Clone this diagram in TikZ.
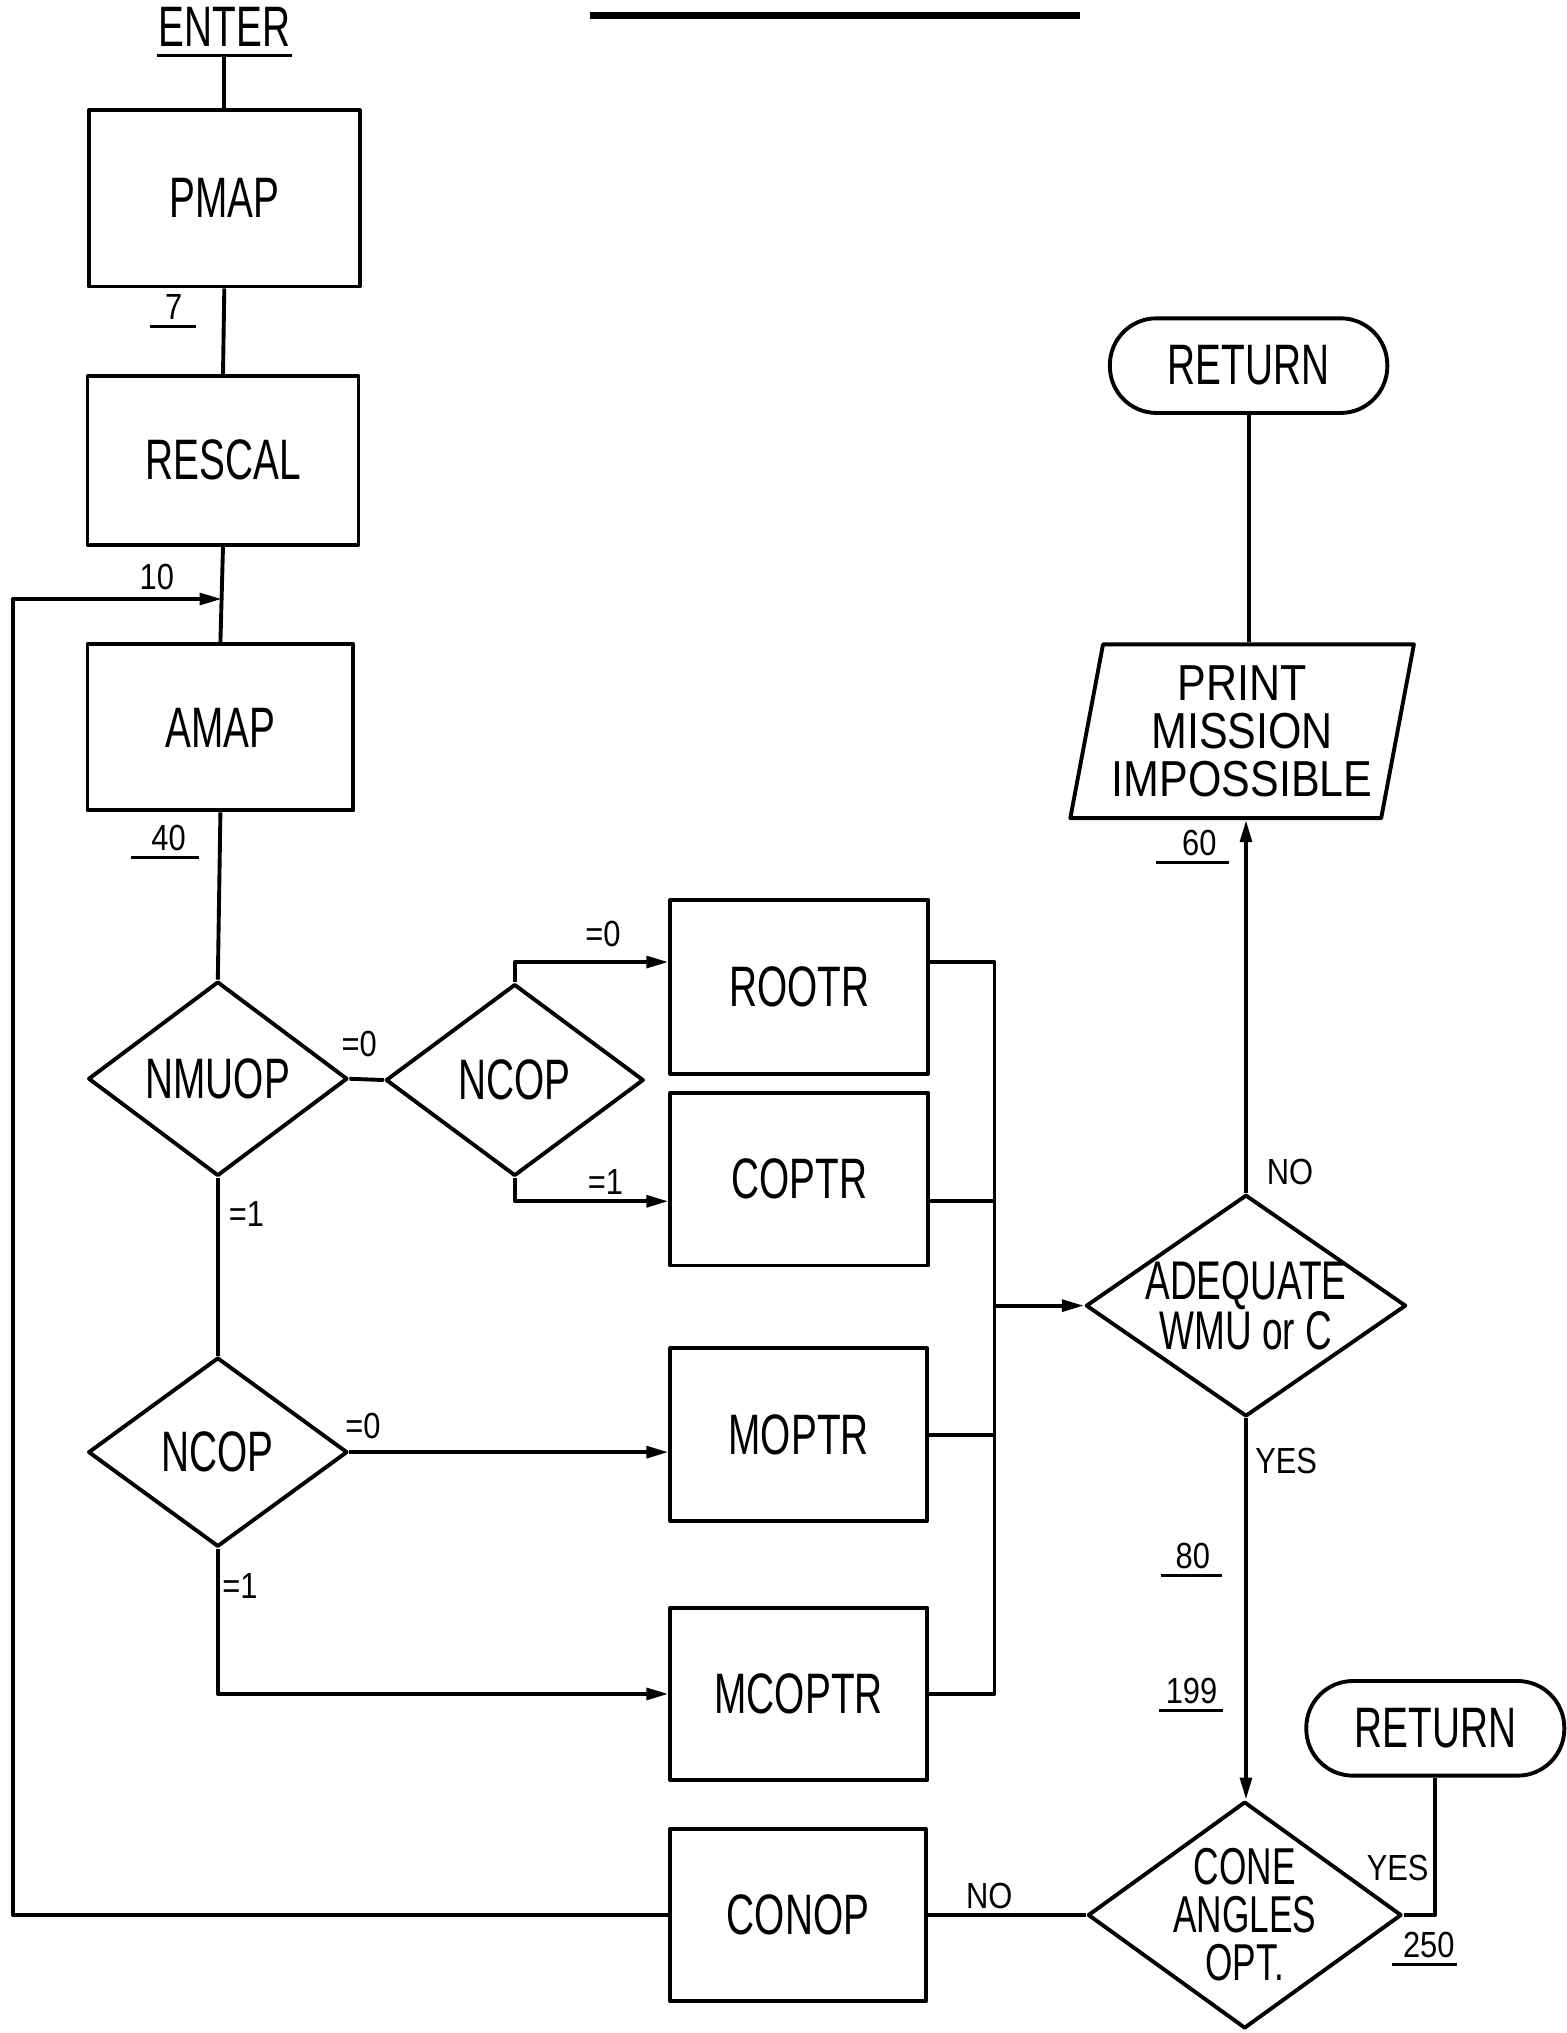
\documentclass[tikz,border=0pt]{standalone}
\usepackage{fontspec}
\setmainfont[FakeStretch=0.68]{Liberation Sans}
\newfontfamily\wideF[FakeStretch=0.85]{Liberation Sans}
\usetikzlibrary{shapes.geometric,arrows.meta,calc}
\begin{document}
\begin{tikzpicture}[x=1pt,y=-1pt,line width=3pt,line join=round,
  big/.style={font=\fontsize{44}{46}\selectfont},
  box/.style={draw,rectangle,inner sep=0pt,big},
  dec/.style={draw,diamond,inner sep=0pt},
  term/.style={draw,rectangle,rounded corners=36pt,inner sep=0pt,big},
  num/.style={font=\wideF\fontsize{28}{30}\selectfont,inner sep=0pt},
  arr/.style={-{Triangle[length=17pt,width=9pt]}},
  uline/.style={line width=2.2pt}]
\useasboundingbox (0,0) rectangle (1208,1568);

% title underline (title text cut off)
\draw[line width=6pt] (455,12) -- (833,12);

% ---- left column
\node[big,inner sep=0pt] (enter) at (173,21) {ENTER};
\coordinate (enterU) at (173,42);
\draw[uline] ($(enter.south west)+(0,5)$) -- ($(enter.south east)+(0,5)$);
\node[box,minimum width=209pt,minimum height=136pt] (pmap) at (173,153) {PMAP};
\node[box,minimum width=209pt,minimum height=130pt] (rescal) at (172,355) {RESCAL};
\node[box,minimum width=205pt,minimum height=128pt] (amap) at (170,561) {AMAP};
\node[dec,minimum width=200pt,minimum height=150pt,label={[big]center:NMUOP}] (nmuop) at (168,832) {};
\node[dec,minimum width=199pt,minimum height=148pt,label={[big]center:NCOP}] (ncop1) at (397,833) {};
\node[dec,minimum width=200pt,minimum height=146pt,label={[big]center:NCOP}] (ncop2) at (168,1120) {};

% ---- middle column
\node[box,minimum width=199pt,minimum height=134pt] (rootr) at (616.5,761) {ROOTR};
\node[box,minimum width=199pt,minimum height=133pt] (coptr) at (616.5,909.5) {COPTR};
\node[box,minimum width=198pt,minimum height=133pt] (moptr) at (616,1106.5) {MOPTR};
\node[box,minimum width=198pt,minimum height=133pt] (mcoptr) at (616,1306.5) {MCOPTR};
\node[box,minimum width=197pt,minimum height=133pt] (conop) at (615.5,1477) {CONOP};

% ---- right column
\node[term,minimum width=214pt,minimum height=73pt] (ret1) at (963,282) {RETURN};
\node[draw,trapezium,trapezium left angle=76,trapezium right angle=104,trapezium stretches body,
      minimum width=265pt,minimum height=134pt,inner sep=0pt,align=center,
      font=\wideF\fontsize{39}{37}\selectfont] (print) at (958,564) {PRINT\\MISSION\\IMPOSSIBLE};
\node[dec,minimum width=247pt,minimum height=171pt,
      label={[align=center,font=\fontsize{42}{37}\selectfont]center:{ADEQUATE\\WMU or C}}] (adeq) at (961,1007) {};
\node[dec,minimum width=242pt,minimum height=175pt,
      label={[align=center,font=\fontsize{40}{37}\selectfont]center:{CONE\\ANGLES\\OPT.}}] (cone) at (960,1477) {};
\node[term,minimum width=199pt,minimum height=73pt] (ret2) at (1107,1333) {RETURN};

% ---- small labels
\node[num] (n7) at (134,237) {7};
\draw[uline] ($(n7.south west)+(-10,4)$) -- ($(n7.south east)+(9,4)$);
\node[num] (n10) at (121,445) {10};
\node[num] (n40) at (130,646) {40};
\draw[uline] ($(n40.south west)+(-14,4)$) -- ($(n40.south east)+(9,4)$);
\node[num] (e1) at (277,805) {=0};
\node[num] (e2) at (465,720) {=0};
\node[num] (e3) at (467,912) {=1};
\node[num] (e4) at (190,936) {=1};
\node[num] (e5) at (280,1100) {=0};
\node[num] (e6) at (185,1223) {=1};
\node[num] (no1) at (995,904) {NO};
\node[num] (n60) at (925,650) {60};
\draw[uline] ($(n60.south west)+(-19,4)$) -- ($(n60.south east)+(8,4)$);
\node[num] (yes1) at (992,1127) {YES};
\node[num] (n80) at (920,1200) {80};
\draw[uline] ($(n80.south west)+(-10,4)$) -- ($(n80.south east)+(8,4)$);
\node[num] (n199) at (919,1304) {199};
\draw[uline] ($(n199.south west)+(-4,4)$) -- ($(n199.south east)+(3,4)$);
\node[num] (no2) at (763,1462) {NO};
\node[num] (yes2) at (1078,1441) {YES};
\node[num] (n250) at (1102,1500) {250};
\draw[uline] ($(n250.south west)+(-7,4)$) -- ($(n250.south east)+(0,4)$);

% ---- connectors
\coordinate (j10) at (171,462);
\coordinate (lft) at (10,462);
\coordinate (col) at (767,742);
\draw (enterU) -- (pmap.north);
\draw (pmap.south) -- (rescal.north);
\draw (rescal.south) -- (amap.north);
\draw (amap.south) -- (nmuop.north);
\draw (nmuop.east) -- (ncop1.west);
\draw[arr] (ncop1.north) |- ($(rootr.west)+(0,-19)$);
\draw[arr] (ncop1.south) |- ($(coptr.west)+(0,17)$);
\draw (nmuop.south) -- (ncop2.north);
\draw[arr] (ncop2.east) -- (ncop2.east -| moptr.west);
\draw[arr] (ncop2.south) |- (mcoptr.west);

\draw ($(rootr.east)+(0,-19)$) -- (col) -- (col |- mcoptr.east) -- (mcoptr.east);
\coordinate (c2) at ($(coptr.east)+(0,17)$);
\draw (c2) -- (c2 -| col);
\draw (moptr.east) -- (moptr.east -| col);
\draw[arr] (adeq.west -| col) -- (adeq.west);

\draw[arr] (adeq.north) -- (adeq.north |- print.south);
\draw (ret1.south) -- (ret1.south |- print.north);
\draw[arr] (adeq.south) -- (adeq.south |- cone.north);
\draw (cone.west) -- (conop.east);
\draw (cone.east) -| (ret2.south);
\draw[arr] (conop.west) -| (lft) -- (j10);
\end{tikzpicture}
\end{document}
